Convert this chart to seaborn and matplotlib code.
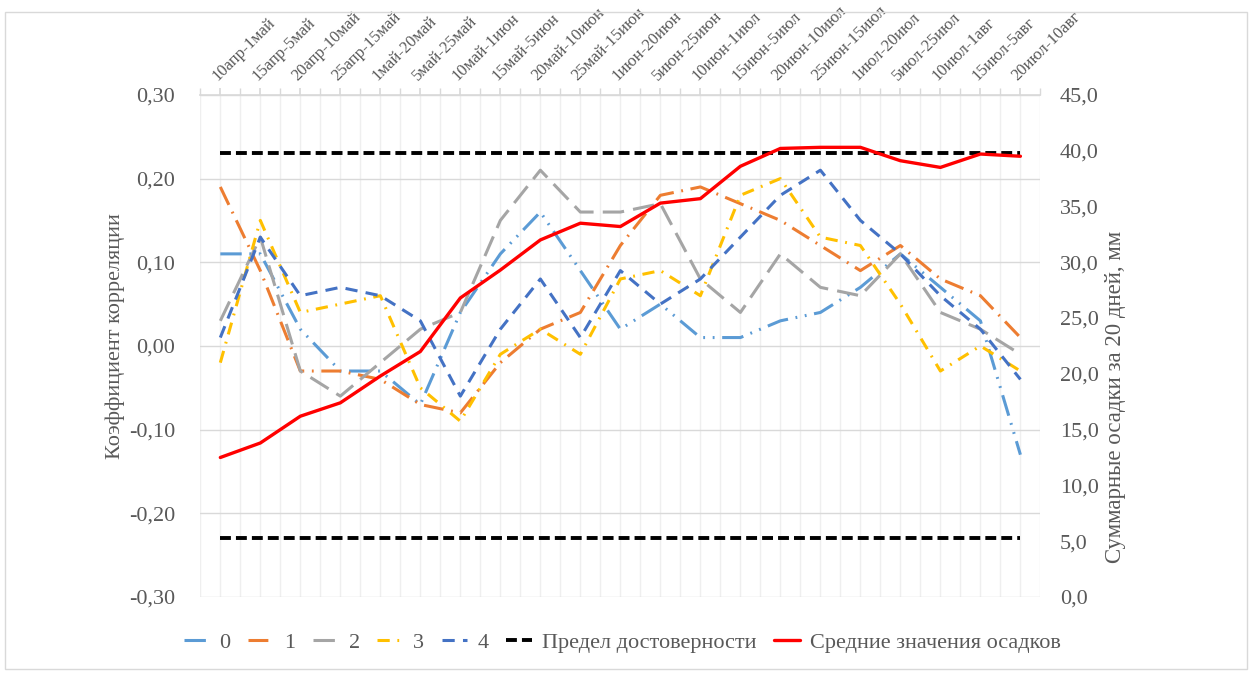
import numpy as np
import matplotlib
matplotlib.use("Agg")
import matplotlib.pyplot as plt
from matplotlib.patches import Rectangle
from matplotlib.ticker import FuncFormatter, MultipleLocator
import seaborn as sns

# periods of 20-day precipitation sums
periods = ["10апр-1май", "15апр-5май", "20апр-10май", "25апр-15май", "1май-20май",
           "5май-25май", "10май-1июн", "15май-5июн", "20май-10июн", "25май-15июн",
           "1июн-20июн", "5июн-25июн", "10июн-1июл", "15июн-5июл", "20июн-10июл",
           "25июн-15июл", "1июл-20июл", "5июл-25июл", "10июл-1авг", "15июл-5авг",
           "20июл-10авг"]

# correlation coefficients, series 0..4
corr_0 = [0.11, 0.11, 0.02, -0.03, -0.03, -0.07, 0.04, 0.11, 0.16, 0.09, 0.02,
          0.05, 0.01, 0.01, 0.03, 0.04, 0.07, 0.11, 0.07, 0.03, -0.13]
corr_1 = [0.19, 0.09, -0.03, -0.03, -0.04, -0.07, -0.08, -0.02, 0.02, 0.04, 0.12,
          0.18, 0.19, 0.17, 0.15, 0.12, 0.09, 0.12, 0.08, 0.06, 0.01]
corr_2 = [0.03, 0.13, -0.03, -0.06, -0.02, 0.02, 0.04, 0.15, 0.21, 0.16, 0.16,
          0.17, 0.08, 0.04, 0.11, 0.07, 0.06, 0.11, 0.04, 0.02, -0.01]
corr_3 = [-0.02, 0.15, 0.04, 0.05, 0.06, -0.05, -0.09, -0.01, 0.02, -0.01, 0.08,
          0.09, 0.06, 0.18, 0.20, 0.13, 0.12, 0.05, -0.03, 0.00, -0.03]
corr_4 = [0.01, 0.13, 0.06, 0.07, 0.06, 0.03, -0.06, 0.02, 0.08, 0.01, 0.09,
          0.05, 0.08, 0.13, 0.18, 0.21, 0.15, 0.11, 0.06, 0.02, -0.04]

# mean precipitation sums, mm (right axis)
precip_mean = [12.5, 13.8, 16.2, 17.4, 19.8, 22.0, 26.8, 29.3, 32.0, 33.5, 33.2,
               35.3, 35.7, 38.6, 40.2, 40.3, 40.3, 39.1, 38.5, 39.7, 39.5]

# significance limit
limit = 0.23

series = [("0", corr_0, "#5B9BD5", (0, (7, 2.5, 0.6, 2.5, 0.6, 2.5))),
          ("1", corr_1, "#ED7D31", (0, (6.5, 2.5, 0.6, 2.5))),
          ("2", corr_2, "#A5A5A5", (0, (7, 3))),
          ("3", corr_3, "#FFC000", (0, (4, 2.5, 0.6, 2.5))),
          ("4", corr_4, "#4472C4", (0, (4, 2.7)))]

text_color = "#595959"

sns.set_theme(style="white")
plt.rcParams["font.family"] = ["Liberation Serif", "DejaVu Serif"]

fig = plt.figure(figsize=(12.52, 6.73), dpi=100)
ax = fig.add_axes([0.160, 0.113, 0.671, 0.746])
ax2 = ax.twinx()

x = np.arange(len(periods))
handles, labels = [], []

for name, vals, color, ls in series:
    sns.lineplot(x=x, y=vals, ax=ax, color=color, linewidth=2.2, linestyle=ls, legend=False)
    handles.append(ax.lines[-1])
    labels.append(name)

sns.lineplot(x=x, y=[limit] * len(x), ax=ax, color="black", linewidth=2.8,
             linestyle=(0, (2.8, 1.3)), legend=False)
handles.append(ax.lines[-1])
labels.append("Предел достоверности")
sns.lineplot(x=x, y=[-limit] * len(x), ax=ax, color="black", linewidth=2.8,
             linestyle=(0, (2.8, 1.3)), legend=False)

sns.lineplot(x=x, y=precip_mean, ax=ax2, color="#FF0000", linewidth=2.4, legend=False)
handles.append(ax2.lines[-1])
labels.append("Средние значения осадков")

# axes
ax.set_xlim(-0.5, len(x) - 0.5)
ax.set_ylim(-0.3, 0.3)
ax2.set_ylim(0, 45)
ax.yaxis.set_major_locator(MultipleLocator(0.1))
ax2.yaxis.set_major_locator(MultipleLocator(5))
ax.yaxis.set_major_formatter(FuncFormatter(lambda v, p: f"{v:.2f}".replace(".", ",").replace("-0,00", "0,00")))
ax2.yaxis.set_major_formatter(FuncFormatter(lambda v, p: f"{v:.1f}".replace(".", ",")))

ax.set_xticks(x)
ax.set_xticks(np.arange(-0.5, len(x), 1.0), minor=True)
ax.xaxis.tick_top()
ax.set_xticklabels(periods, rotation=45, ha="left", rotation_mode="anchor")
ax.tick_params(axis="x", which="both", length=5, color="#D9D9D9", labelsize=12,
               labelcolor=text_color, pad=3)
ax.tick_params(axis="y", length=0, labelsize=16, labelcolor=text_color, pad=18)
ax2.tick_params(axis="y", length=0, labelsize=16, labelcolor=text_color, pad=14)

ax.set_axisbelow(True)
ax.grid(axis="y", color="#D9D9D9", linewidth=1)
ax.grid(axis="x", which="both", color="#EFEFEF", linewidth=1)
for side in ["left", "right", "bottom"]:
    ax.spines[side].set_visible(False)
ax.spines["top"].set_color("#D9D9D9")
for side in ax2.spines:
    ax2.spines[side].set_visible(False)
ax.set_xlabel("")
ax.set_ylabel("")
ax2.set_ylabel("")

fig.text(0.092, 0.5, "Коэффициент корреляции", rotation=90, ha="center", va="center",
         fontsize=16, color=text_color)
fig.text(0.891, 0.41, "Суммарные осадки за 20 дней, мм", rotation=90, ha="center",
         va="center", fontsize=16.5, color=text_color)

fig.legend(handles, labels, loc="center", bbox_to_anchor=(0.497, 0.045), ncol=7,
           frameon=False, fontsize=16, handlelength=1.15, handletextpad=0.45,
           columnspacing=0.8, labelcolor=text_color)

fig.patches.append(Rectangle((0.004, 0.006), 0.992, 0.976, transform=fig.transFigure,
                             fill=False, edgecolor="#D9D9D9", linewidth=1))

fig.savefig("out.png", dpi=100)
